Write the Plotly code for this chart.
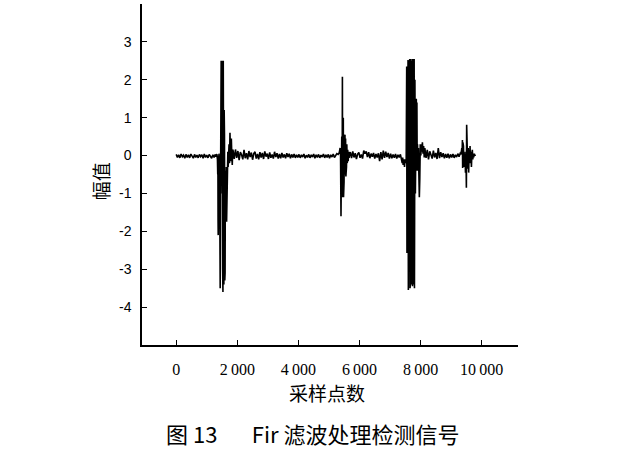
import plotly.graph_objects as go

# ---- data (sample index, amplitude) ----
# quiet baseline 0..1280, step 40
q1_start, q1_step = 0, 40
q1_vals = [0.03, -0.05, 0.02, -0.06, 0.04, -0.03, 0.01, -0.07, 0.03, -0.05, 0.02, -0.06,
           0.04, -0.02, -0.07, 0.03, -0.05, 0.01, -0.06, 0.03, -0.03, 0.02, -0.07, 0.04,
           -0.05, 0.01, -0.06, 0.03, -0.03, -0.07, 0.02, -0.05, 0.03]

burst1_x = [1300, 1330, 1350, 1360, 1365, 1370, 1375, 1385, 1400, 1420, 1435, 1440, 1450,
            1465, 1472, 1480, 1490, 1495, 1505, 1510, 1520, 1530, 1540, 1548, 1555, 1560,
            1570, 1580, 1590, 1600, 1610, 1620, 1630, 1640, 1650, 1660, 1670, 1680, 1690,
            1700, 1715, 1730, 1745, 1760, 1775, 1790, 1805, 1820, 1835, 1850]
burst1_y = [-0.03, 0.04, -0.1, -0.5, 0.0, -1.7, -2.1, -0.2, 0.05, -0.3, -2.8, -3.5, -1.0,
            1.5, 2.5, 2.45, 0.0, 2.5, -1.0, 2.4, -3.0, -3.6, 2.5, -2.5, 0.5, -3.4,
            1.2, 0.55, -3.3, -3.1, -0.5, -0.4, -1.0, -0.3, -1.75, -1.2, -0.3, -0.6, 0.1,
            -0.3, 0.0, 0.3, -0.2, 0.6, 0.1, -0.15, 0.45, 0.0, -0.25, 0.15]

# noisy baseline 1860..3940, step 40
nA_start, nA_step = 1860, 40
nA_vals = [0.14, -0.09, 0.16, -0.06, 0.12, -0.12, 0.09, 0.02, -0.1, 0.15,
           -0.07, 0.06, -0.1, 0.12, -0.04, 0.08, -0.11, 0.05, 0.1, -0.08,
           0.04, -0.1, 0.09, -0.05, 0.07, -0.09, 0.11, -0.03, 0.05, -0.09,
           0.08, -0.06, 0.03, -0.08, 0.1, -0.04, 0.06, -0.08, 0.04, -0.07,
           0.07, -0.05, 0.03, -0.07, 0.06, -0.04, 0.05, -0.07, 0.03, -0.05,
           0.04, -0.06, 0.02]

# quiet baseline 3980..5300, step 40
qB_start, qB_step = 3980, 40
qB_vals = [-0.05, 0.03, -0.06, 0.02, -0.04, 0.04, -0.07, 0.01, -0.05, 0.03,
           -0.06, 0.02, -0.04, 0.04, -0.07, 0.02, -0.05, 0.03, -0.06, 0.01,
           -0.04, 0.04, -0.06, 0.02, -0.05, 0.03, -0.07, 0.02, -0.04, 0.04,
           -0.05, 0.01, 0.05, 0.03]

burst2_x = [5330, 5350, 5365, 5380, 5395, 5405, 5420, 5435, 5441, 5448, 5455, 5462, 5470,
            5478, 5485, 5495, 5505, 5515, 5525, 5535, 5545, 5555, 5565, 5575, 5585, 5600,
            5615, 5630, 5645, 5660, 5680]
burst2_y = [0.06, 0.12, 0.2, 0.05, -1.6, -0.6, 0.5, -0.2, 2.08, -1.1, 1.4, -0.8, 1.0,
            -1.1, 0.3, -0.7, 0.5, -0.4, 0.55, -0.5, 0.45, -0.55, 0.35, -0.3, 0.3, -0.2,
            0.15, -0.15, 0.1, -0.06, 0.06]

# noisy baseline 5700..7340, step 40
nC_start, nC_step = 5700, 40
nC_vals = [0.09, -0.07, 0.11, -0.05, 0.06, -0.09, 0.04, 0.08, -0.06, 0.03,
           -0.08, 0.13, 0.05, 0.11, -0.04, 0.09, -0.07, 0.05, -0.03, 0.07,
           -0.08, 0.04, -0.05, 0.06, -0.15, 0.09, -0.1, 0.13, -0.06, 0.1,
           -0.04, 0.07, -0.08, 0.05, -0.07, 0.03, -0.06, 0.04, -0.08, 0.02,
           -0.05, 0.03]

burst3_x = [7370, 7385, 7400, 7415, 7430, 7445, 7460, 7475, 7490, 7510, 7530, 7546, 7555,
            7570, 7590, 7600, 7615, 7630, 7645, 7655, 7665, 7675, 7685, 7695, 7705, 7715,
            7725, 7735, 7745, 7755, 7765, 7775, 7790, 7800, 7815, 7830, 7845, 7860, 7870,
            7880, 7890, 7900, 7915, 7930, 7945, 7960, 7975, 7990, 8010, 8025, 8040, 8060,
            8080, 8100, 8120]
burst3_y = [-0.15, -0.1, -0.2, -0.05, -0.25, -0.1, -0.15, -0.3, -0.1, -0.2, -0.1, 2.35, -2.57,
            0.2, 2.52, -3.55, 2.5, -2.8, 2.55, -3.5, 2.55, -3.3, 2.55, -3.4, 2.55, -3.3,
            2.5, -3.45, 2.55, -3.4, 2.2, -3.3, 2.55, -3.5, 2.0, -1.0, 0.5, 1.5, 0.7,
            1.4, -0.4, 0.3, -0.3, 0.2, -0.5, -1.1, -0.6, 0.3, 0.0, 0.3, 0.1, 0.35,
            0.05, 0.25, -0.05]

# noisy baseline 8140..9300, step 40
nD_start, nD_step = 8140, 40
nD_vals = [0.2, -0.06, 0.15, -0.1, 0.11, 0.02, -0.08, 0.13, -0.05, 0.07,
           -0.09, 0.2, -0.07, 0.09, -0.04, 0.06, -0.07, 0.04, -0.06, 0.05,
           -0.07, 0.03, -0.05, 0.04, -0.06, 0.02, -0.04, 0.05, -0.03, 0.06]

burst4_x = [9320, 9335, 9350, 9360, 9370, 9378, 9386, 9395, 9405, 9415, 9425, 9440, 9455,
            9470, 9485, 9500, 9509, 9520, 9530, 9545, 9560, 9575, 9590, 9605, 9620, 9635,
            9650, 9665, 9680, 9695, 9710, 9725, 9740, 9760, 9780, 9800]
burst4_y = [0.05, 0.1, 0.2, 0.05, 0.41, -0.33, 0.35, 0.0, 0.25, -0.3, 0.1, -0.15, 0.05,
            -0.45, 0.1, -0.85, 0.81, -0.2, 0.35, -0.35, 0.2, -0.45, 0.15, -0.1, 0.25, -0.2,
            0.1, -0.3, 0.05, 0.15, -0.1, 0.05, -0.05, 0.05, 0.0, 0.02]

x_tickvals = [0, 2000, 4000, 6000, 8000, 10000]
x_ticktext = ["0", "2\u2009000", "4\u2009000", "6\u2009000", "8\u2009000", "10\u2009000"]
y_tickvals = [-4, -3, -2, -1, 0, 1, 2, 3]
y_ticktext = ["-4", "-3", "-2", "-1", "0", "1", "2", "3"]

x_title = "采样点数"
y_title = "幅值"
caption = "图\u00a013\u00a0\u00a0\u00a0\u00a0\u00a0\u00a0\u00a0Fir 滤波处理检测信号"


def grid(start, step, vals):
    return [start + step * i for i in range(len(vals))]


xs, ys = [], []
for sx, sy in [
    (grid(q1_start, q1_step, q1_vals), q1_vals),
    (burst1_x, burst1_y),
    (grid(nA_start, nA_step, nA_vals), nA_vals),
    (grid(qB_start, qB_step, qB_vals), qB_vals),
    (burst2_x, burst2_y),
    (grid(nC_start, nC_step, nC_vals), nC_vals),
    (burst3_x, burst3_y),
    (grid(nD_start, nD_step, nD_vals), nD_vals),
    (burst4_x, burst4_y),
]:
    xs.extend(sx)
    ys.extend(sy)

fig = go.Figure()
fig.add_trace(go.Scatter(x=xs, y=ys, mode="lines",
                         line=dict(color="black", width=1.6), hoverinfo="skip"))

fig.update_layout(
    width=627, height=452,
    margin=dict(l=142, r=109, t=4, b=107),
    paper_bgcolor="white", plot_bgcolor="white",
    showlegend=False,
    xaxis=dict(range=[-1120, 11190], showgrid=False, zeroline=False,
               showline=True, linecolor="black", linewidth=1.5,
               ticks="inside", ticklen=5, tickcolor="black", tickwidth=1.2,
               tickvals=x_tickvals, ticktext=x_ticktext,
               tickfont=dict(family="Liberation Serif", size=16, color="black"),
               ticklabelstandoff=9),
    yaxis=dict(range=[-5, 4], showgrid=False, zeroline=False,
               showline=True, linecolor="black", linewidth=1.5,
               ticks="inside", ticklen=5, tickcolor="black", tickwidth=1.2,
               tickvals=y_tickvals, ticktext=y_ticktext,
               tickfont=dict(family="Liberation Sans", size=14, color="black"),
               ticklabelstandoff=6),
    annotations=[
        dict(text=x_title, x=4940, xref="x", y=-0.138, yref="paper",
             showarrow=False, xanchor="center", yanchor="middle",
             font=dict(family="Noto Sans CJK SC", size=19, color="black")),
        dict(text=y_title, x=-0.112, xref="paper", y=0.48, yref="paper",
             showarrow=False, xanchor="center", yanchor="middle", textangle=-90,
             font=dict(family="Noto Sans CJK SC", size=19, color="black")),
        dict(text=caption, x=4480, xref="x", y=-0.258, yref="paper",
             showarrow=False, xanchor="center", yanchor="middle",
             font=dict(family="Noto Sans CJK SC", size=22, color="black")),
    ],
)

fig.write_html("out.html", config={"displayModeBar": False},
               post_script="document.body.style.margin='0';")
